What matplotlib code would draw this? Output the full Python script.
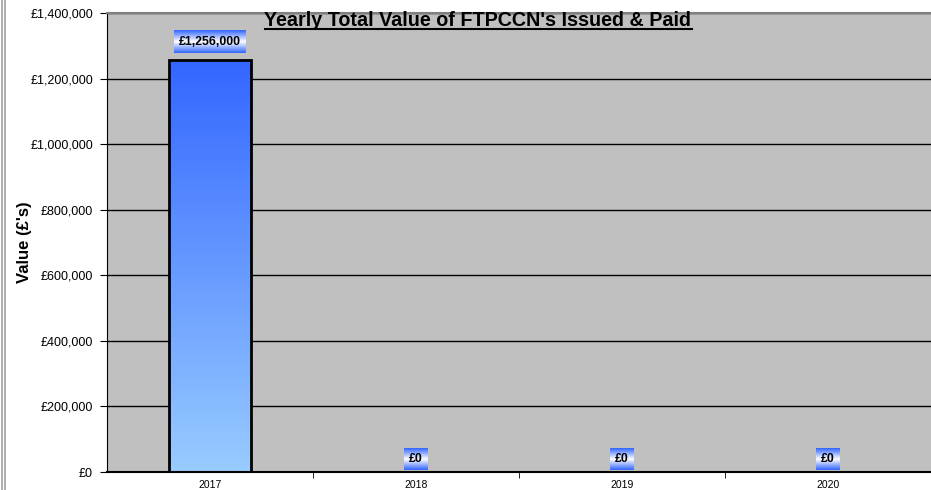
import numpy as np
import matplotlib
matplotlib.use("Agg")
import matplotlib.pyplot as plt
from matplotlib.colors import LinearSegmentedColormap
from matplotlib.patches import Rectangle
from matplotlib.lines import Line2D
from matplotlib.ticker import FuncFormatter, MultipleLocator

years = ["2017", "2018", "2019", "2020"]
values = [1256000, 0, 0, 0]
labels = ["£1,256,000", "£0", "£0", "£0"]
title = "Yearly Total Value of FTPCCN's Issued & Paid"
ylabel = "Value (£'s)"

plt.rcParams['font.family'] = ['Liberation Sans', 'DejaVu Sans']

fig = plt.figure(figsize=(9.31, 4.90), dpi=100)
ax = fig.add_axes([107/931, 18/490, 1 - 107/931, (472-13)/490])
ax.set_facecolor('#C0C0C0')

x = np.arange(len(years))
ax.set_xlim(-0.5, len(years) - 0.5)
ax.set_ylim(0, 1400000)
ax.set_autoscale_on(False)

ax.yaxis.set_major_locator(MultipleLocator(200000))
ax.yaxis.set_major_formatter(FuncFormatter(lambda v, p: "£{:,.0f}".format(v)))
ax.grid(axis='y', color='black', linewidth=1.0)
ax.set_axisbelow(True)

bar_cmap = LinearSegmentedColormap.from_list('bar', ['#99CCFF', '#3366FF'])
grad = np.linspace(0, 1, 256).reshape(-1, 1)
width = 0.40
bars = ax.bar(x, values, width=width, facecolor='none', edgecolor='black', linewidth=2, zorder=3)
for xi, v in zip(x, values):
    if v <= 0:
        continue
    im = ax.imshow(grad, cmap=bar_cmap, origin='lower', aspect='auto',
                   extent=[xi - width/2, xi + width/2, 0, v], zorder=2)
    clip = Rectangle((xi - width/2, 0), width, v, transform=ax.transData)
    im.set_clip_path(clip)

# ticks
ax.set_xticks(x)
ax.set_xticklabels(years, fontsize=7.5)
ax.set_xticks(np.arange(len(years) - 1) + 0.5, minor=True)
ax.tick_params(axis='x', which='major', length=0, pad=6)
ax.tick_params(axis='x', which='minor', length=4, direction='out', color='black')
ax.tick_params(axis='y', which='major', length=5, direction='out', labelsize=9, pad=5)

ax.spines['right'].set_visible(False)
ax.spines['top'].set_color('#808080')
ax.spines['top'].set_linewidth(1.5)
ax.spines['left'].set_color('black')
ax.spines['bottom'].set_color('black')
ax.spines['bottom'].set_linewidth(1.5)

fig.text(25/931, 1 - 242/490, ylabel, fontsize=12, fontweight='bold',
         rotation=90, ha='center', va='center')
title_txt = fig.text(478/931, 1 - 21/490, title, fontsize=14.2, fontweight='bold',
                     ha='center', va='center')

# data labels
texts = []
for xi, v, lab in zip(x, values, labels):
    off = 18 if v > 0 else 13
    t = ax.annotate(lab, (xi, v), xytext=(0, off), textcoords='offset pixels',
                    ha='center', va='center', fontsize=8.8, fontweight='bold', zorder=6)
    texts.append(t)

fig.canvas.draw()
renderer = fig.canvas.get_renderer()

# underline title
bb = title_txt.get_window_extent(renderer)
fig.add_artist(Line2D([bb.x0/931, bb.x1/931], [(bb.y0 + 1)/490]*2, color='black', lw=1.5,
                      transform=fig.transFigure))

box_cmap = LinearSegmentedColormap.from_list('box', ['#3366FF', '#FFFFFF', '#3366FF'])
bgrad = np.linspace(0, 1, 64).reshape(-1, 1)
inv = ax.transData.inverted()
for t in texts:
    bb = t.get_window_extent(renderer)
    (x0, y0) = inv.transform((bb.x0 - 5, bb.y0 - 5))
    (x1, y1) = inv.transform((bb.x1 + 5, bb.y1 + 5))
    ax.imshow(bgrad, cmap=box_cmap, origin='lower', aspect='auto',
              extent=[x0, x1, y0, y1], zorder=5, clip_on=False)

# outer frame lines on left
for px in (1.5, 5.0):
    fig.add_artist(Line2D([px/931, px/931], [0, 1], color='#A0A0A0', lw=1.2,
                          transform=fig.transFigure))

ax.set_xlim(-0.5, len(years) - 0.5)
ax.set_ylim(0, 1400000)
fig.savefig('out.png', dpi=100)
